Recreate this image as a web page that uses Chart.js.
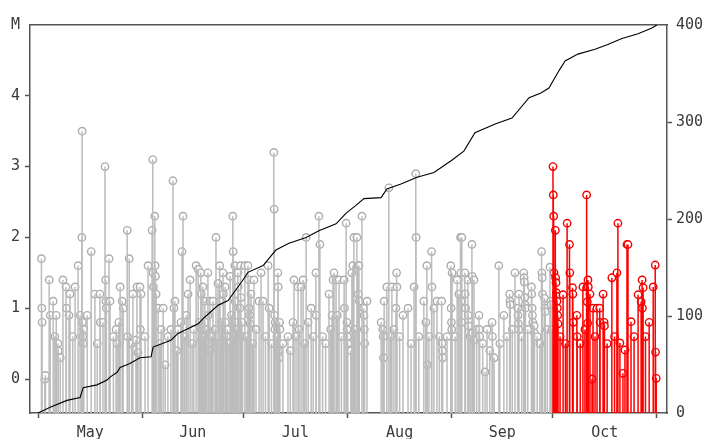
<!DOCTYPE html>
<html><head><meta charset="utf-8">
<script src="https://cdn.jsdelivr.net/npm/chart.js@4.4.1/dist/chart.umd.min.js"></script>
<style>html,body{margin:0;padding:0;background:#fff;}</style>
</head><body>
<canvas id="c" width="707" height="439"></canvas>
<script>
// ---- event data (day since May 1, magnitude M) ----
const mayDays = [1.0,1.1,1.2,2.0,2.2,3.3,3.6,4.5,5.0,5.4,5.9,6.0,6.6,7.4,8.3,8.4,9.2,9.5,10.3,11.0,11.9,12.5,13.0,13.1,13.2,13.3,13.4,13.6,14.6,15.8,16.9,17.6,18.4,18.5,19.3,19.9,20.1,20.2,20.3,21.1,21.4,22.4,23.2,23.5,24.0,24.4,25.0,25.3,26.5,26.6,27.1,27.8,28.2,29.1,29.4,29.7,30.3,30.4,30.6];
const mayMags = [1.7,1.0,0.8,0.0,0.05,1.4,0.9,1.1,0.6,0.9,0.5,0.4,0.3,1.4,1.3,1.0,0.9,1.2,0.6,1.3,1.6,0.9,2.0,3.5,0.8,0.6,0.5,0.7,0.9,1.8,1.2,0.5,1.2,0.8,0.8,3.0,1.4,1.1,1.0,1.7,1.1,0.6,0.7,0.5,0.8,1.3,1.1,1.0,2.1,0.6,1.7,0.5,1.2,0.55,1.3,0.37,1.3,0.7,1.2];

const junDays = [31.8,32.7,33.9,34.1,34.2,34.3,34.7,34.8,34.9,35.1,35.7,36.2,36.6,37.2,37.8,38.6,39.5,40.1,40.4,40.7,41.2,41.6,42.5,42.8,43.1,43.6,44.1,44.6,45.2,45.8,46.3,47.0,47.6,48.0,48.4,48.5,48.6,49.0,49.3,49.6,50.0,50.5,50.6,51.1,51.2,51.6,52.0,52.6,52.9,53.2,53.5,54.0,54.1,54.2,54.6,55.0,55.1,55.6,55.7,56.0,56.3,56.8,57.1,57.5,57.9,58.0,58.3,58.5,58.6,58.7,59.0,59.4,59.5,60.0,60.2,60.3,60.6,60.8];
const junMags = [0.6,1.6,2.1,3.1,1.5,1.3,2.3,1.6,1.45,1.2,1.0,0.5,0.7,1.0,0.2,0.6,0.7,2.8,1.0,1.1,0.4,0.7,0.8,1.8,2.3,0.6,0.9,1.2,1.4,0.5,0.7,1.6,1.55,0.8,1.5,1.2,0.55,1.3,0.6,1.1,0.7,1.5,0.9,1.1,0.4,0.6,1.1,0.7,2.0,0.5,1.35,1.6,1.1,0.5,0.8,1.5,1.2,1.3,0.8,0.6,0.7,0.5,1.45,0.9,2.3,1.8,0.6,1.6,1.1,0.8,0.7,1.5,1.3,1.0,1.6,1.15,0.8,0.6];

const julDays = [61.5,62.0,62.4,62.7,62.8,62.9,63.0,63.3,63.8,64.2,64.8,65.7,66.3,66.9,67.6,68.4,68.7,69.4,70.1,70.2,70.3,70.4,70.5,71.0,71.1,71.3,71.4,71.5,71.6,71.8,71.9,72.8,74.3,75.0,75.8,76.1,76.7,77.3,77.6,78.2,78.8,79.2,79.7,80.3,81.2,81.8,82.6,82.7,83.5,83.8,84.6,85.5,86.5,87.0,87.4,87.7,88.0,88.6,89.0,89.5,90.2,91.0,91.1,91.6,91.8,91.9,92.0,92.1];
const julMags = [1.6,0.6,1.6,1.4,1.0,0.9,0.78,1.2,0.5,1.4,0.7,1.1,1.5,1.1,0.6,1.6,1.0,0.5,3.2,2.4,0.9,0.7,0.8,0.6,0.5,1.5,1.3,0.4,0.3,0.8,0.7,0.5,0.6,0.4,0.8,1.4,0.6,1.3,0.7,1.3,1.4,0.5,2.0,0.8,1.0,0.6,1.5,0.9,2.3,1.9,0.6,0.5,1.2,0.7,0.9,1.4,1.5,1.4,0.9,1.4,0.6,1.4,1.0,2.2,0.8,0.7,0.6,0.5];

const augDays = [93.0,93.3,93.6,93.9,94.3,94.8,95.1,95.2,95.4,95.5,96.3,96.8,96.9,97.0,97.1,97.8,102.0,102.5,102.6,102.7,102.9,103.7,104.3,104.8,105.2,105.8,106.4,106.6,106.7,107.5,108.5,110.0,110.9,111.8,112.3,112.4,113.2,114.7,115.3,115.6,115.7,116.2,117.0,117.1,117.7,118.6,119.3,120.0,120.1,120.2,120.3,121.6,122.7,122.8,122.9,123.0];
const augMags = [0.4,1.5,1.6,2.0,0.7,2.0,1.6,1.2,1.6,1.1,2.3,1.0,0.9,0.7,0.5,1.1,0.8,0.7,0.6,0.3,1.1,1.3,2.7,0.6,1.3,0.7,1.0,1.5,1.3,0.6,0.9,1.0,0.5,1.3,2.9,2.0,0.6,1.1,0.8,1.6,0.2,0.6,1.8,1.3,1.0,1.1,0.6,1.1,0.5,0.4,0.3,0.6,1.6,1.0,0.8,0.7];

const sepDays = [123.1,124.0,124.6,125.1,125.6,125.7,125.8,125.9,126.0,126.9,127.0,127.1,127.8,127.9,128.0,128.5,129.0,129.1,129.2,129.6,129.7,130.4,131.1,131.2,131.3,132.2,132.9,133.5,134.3,135.0,135.1,135.6,137.0,137.3,138.5,139.4,140.2,140.3,140.4,141.0,141.8,142.6,142.7,142.8,142.9,143.0,143.8,144.4,144.5,144.6,144.7,144.8,144.9,145.6,146.7,146.8,146.9,147.0,147.1,147.5,147.6,148.4,149.2,149.7,149.8,149.9,150.0,150.6,150.7,150.8,151.4,152.2,152.4,152.5,152.8];
const sepMags = [1.5,0.6,1.4,1.2,2.0,1.5,1.1,0.8,2.0,1.5,1.2,1.0,1.4,0.9,0.75,0.6,1.9,1.45,0.65,1.4,0.55,0.7,0.9,0.7,0.6,0.5,0.1,0.7,0.4,0.8,0.6,0.3,1.6,0.5,0.9,0.6,1.2,1.1,1.05,0.7,1.5,1.0,0.9,0.78,0.7,1.2,0.6,1.5,1.43,1.37,1.15,1.05,1.0,0.7,1.3,1.2,1.0,0.9,0.8,0.75,0.65,0.6,0.5,1.8,1.5,1.43,1.2,1.14,1.0,0.95,0.7,1.58,1.1,1.05,0.7];

const octDays = [153.1,153.2,153.3,153.4,153.8,153.9,154.0,154.1,154.2,154.3,154.4,154.5,154.6,155.2,156.1,156.8,157.3,158.0,158.1,158.9,159.0,159.1,160.2,160.3,161.2,162.0,162.6,163.1,163.2,163.3,163.4,163.5,163.6,164.1,164.7,165.0,165.6,166.2,167.0,167.1,168.0,168.3,168.4,169.2,170.6,171.4,172.1,172.4,173.0,173.9,174.5,175.1,175.4,176.3,177.2,178.4,179.3,179.6,179.7,179.9,180.6,181.7,182.9,183.5,183.6,183.8];
const octMags = [3.0,2.6,2.3,1.5,2.1,1.43,1.36,1.22,1.17,1.1,1.0,0.9,0.78,0.6,1.19,0.5,2.2,1.9,1.5,1.29,1.2,0.8,0.9,0.6,0.5,1.3,0.7,2.6,1.3,1.09,0.79,1.4,1.3,1.2,0.0,1.0,0.6,1.0,1.0,0.8,1.2,0.8,0.75,0.5,1.43,0.6,1.5,2.2,0.51,0.08,0.41,1.9,1.9,0.81,0.6,1.19,1.09,1.4,1.0,1.29,0.6,0.8,1.3,1.61,0.38,0.01];

// ---- cumulative count ----
const cumDays = [0,3.6,8.6,12.5,13.4,17.5,20.5,21.4,23.5,24.4,27.3,30.3,33.6,34.2,39.5,41.6,47.6,49.6,53.5,56.5,58.6,60.5,62.4,66.9,70.7,74.6,79.7,83.5,88.6,91.6,94.5,96.9,102.0,103.7,107.9,112.7,117.7,122.8,126.6,129.9,135.9,140.9,146.0,149.5,151.9,154.9,156.7,160.5,165.6,169.4,173.6,178.4,182.5,184.0];
const cumCounts = [0,6,13,16,26,29,34,37,42,47,51,57,58,68,75,82,92,99,111,116,126,135,145,152,168,175,181,188,195,206,214,221,222,231,236,243,248,260,270,289,298,304,325,330,335,353,363,370,375,380,386,391,397,400];

// ---- axes ----
const monthStarts = [0,31,61,92,123,153,184];
const monthLabels = ['May','Jun','Jul','Aug','Sep','Oct'];
const magTicks = [0,1,2,3,4,5];
const magAxisTitle = 'M';
const countTicks = [0,100,200,300,400];
const X_MIN = -2.4, X_MAX = 187.0, M_MIN = -0.48, M_MAX = 5, C_MAX = 400;
const RED_FROM = 153;

const allDays = [].concat(mayDays, junDays, julDays, augDays, sepDays, octDays);
const allMags = [].concat(mayMags, junMags, julMags, augMags, sepMags, octMags);

const grayStems = [], redStems = [], grayDots = [], redDots = [];
allDays.forEach((d, i) => {
  const m = allMags[i];
  const red = d >= RED_FROM;
  (red ? redStems : grayStems).push({x:d, y:M_MIN}, {x:d, y:m}, {x:d, y:null});
  (red ? redDots : grayDots).push({x:d, y:m});
});

const midMonths = monthLabels.map((_, i) => (monthStarts[i] + monthStarts[i+1]) / 2);
const xTickVals = monthStarts.concat(midMonths).sort((a,b)=>a-b);

const FONT = {family: 'DejaVu Sans Mono', size: 15};
const TXT = '#3a3a3a';
const FRAME = '#555';

new Chart(document.getElementById('c'), {
  type: 'scatter',
  data: {
    datasets: [
      {type:'line', data: cumDays.map((d,i)=>({x:d, y:cumCounts[i]})), yAxisID:'y2',
       borderColor:'#000', borderWidth:1.1, pointRadius:0, tension:0, order:0},
      {type:'line', data: redStems, borderColor:'#ff0000', borderWidth:1.5, pointRadius:0, spanGaps:false, order:1},
      {type:'line', data: grayStems, borderColor:'#bcbcbc', borderWidth:1.5, pointRadius:0, spanGaps:false, order:2},
      {type:'scatter', data: redDots, pointRadius:3.7, pointBorderWidth:1.4, pointBorderColor:'#f00000', pointBackgroundColor:'rgba(255,255,255,0.9)', order:3},
      {type:'scatter', data: grayDots, pointRadius:3.7, pointBorderWidth:1.4, pointBorderColor:'#adadad', pointBackgroundColor:'rgba(255,255,255,0.9)', order:4}
    ]
  },
  options: {
    responsive: false, animation: false, devicePixelRatio: 1,
    layout: {padding: 0},
    plugins: {legend:{display:false}, tooltip:{enabled:false}},
    events: [],
    scales: {
      x: {
        type:'linear', position:'bottom', min:X_MIN, max:X_MAX,
        afterBuildTicks: s => { s.ticks = xTickVals.map(v=>({value:v})); },
        afterFit: s => { s.height = 26; },
        ticks: {autoSkip:false, maxRotation:0, padding:6, font:FONT, color:TXT,
          callback: v => { const i = midMonths.indexOf(v); return i >= 0 ? monthLabels[i] : ''; }},
        grid: {drawOnChartArea:false, drawTicks:true, tickLength:5, tickWidth:1.5,
          tickColor: ctx => monthStarts.includes(ctx.tick && ctx.tick.value) ? FRAME : 'rgba(0,0,0,0)'},
        border: {display:true, color:FRAME, width:1.5}
      },
      xTop: {
        type:'linear', position:'top', min:X_MIN, max:X_MAX,
        afterFit: s => { s.height = 25; },
        ticks: {display:false},
        grid: {display:false},
        border: {display:true, color:FRAME, width:1.5}
      },
      y: {
        type:'linear', position:'left', min:M_MIN, max:M_MAX,
        afterBuildTicks: s => { s.ticks = magTicks.map(v=>({value:v})); },
        afterFit: s => { s.width = 30; },
        ticks: {padding:5, font:FONT, color:TXT, callback: v => v === M_MAX ? magAxisTitle : String(v)},
        grid: {drawOnChartArea:false, drawTicks:true, tickLength:5, tickWidth:1.5,
          tickColor: ctx => (ctx.tick && ctx.tick.value === M_MAX) ? 'rgba(0,0,0,0)' : FRAME},
        border: {display:true, color:FRAME, width:1.5}
      },
      y2: {
        type:'linear', position:'right', min:0, max:C_MAX,
        afterBuildTicks: s => { s.ticks = countTicks.map(v=>({value:v})); },
        afterFit: s => { s.width = 40; },
        ticks: {padding:4, font:FONT, color:TXT},
        grid: {drawOnChartArea:false, drawTicks:true, tickLength:5, tickWidth:1.5,
          tickColor: ctx => (ctx.tick && (ctx.tick.value === 0 || ctx.tick.value === C_MAX)) ? 'rgba(0,0,0,0)' : FRAME},
        border: {display:true, color:FRAME, width:1.5}
      }
    }
  }
});
</script>
</body></html>
